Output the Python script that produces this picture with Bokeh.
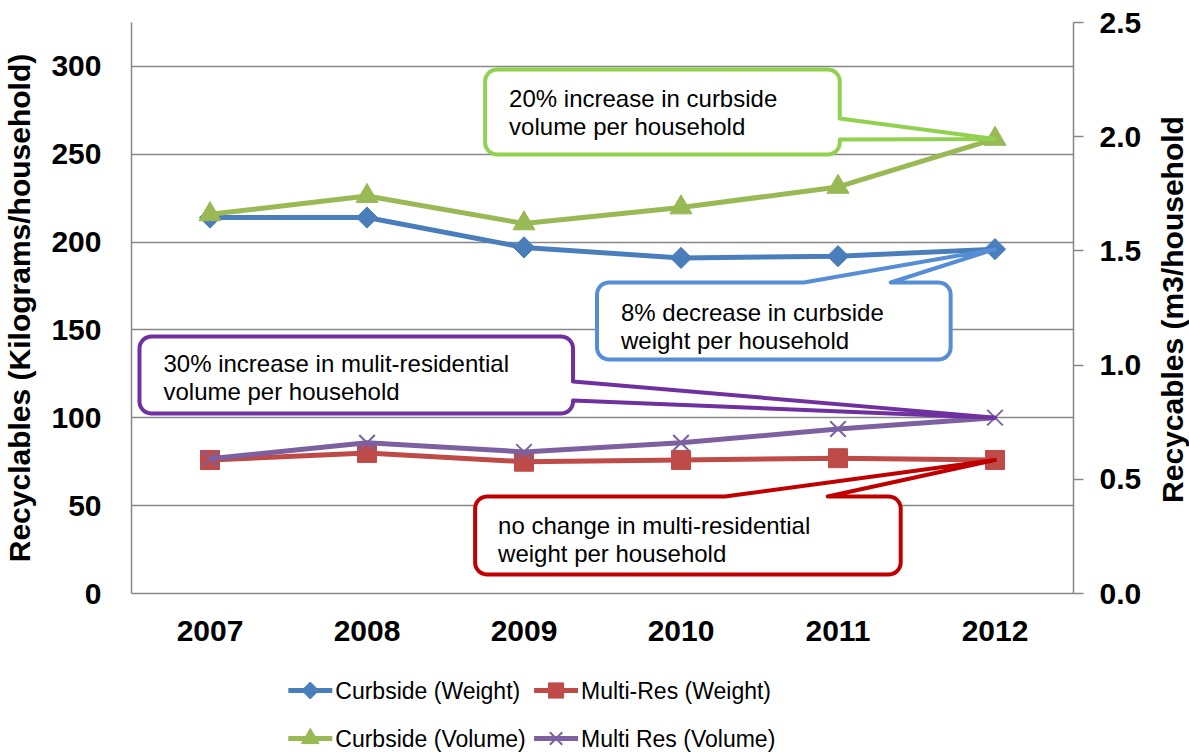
import math

from bokeh.core.properties import value
from bokeh.embed import file_html
from bokeh.layouts import column, row
from bokeh.models import FixedTicker, LinearAxis, PrintfTickFormatter, Range1d
from bokeh.plotting import figure
from bokeh.resources import INLINE

# ---- data -------------------------------------------------------------
years = ["2007", "2008", "2009", "2010", "2011", "2012"]
curbside_weight = [214, 214, 197, 191, 192, 196]      # kg / household
multires_weight = [76, 80, 75, 76, 77, 76]            # kg / household
curbside_volume = [1.66, 1.74, 1.62, 1.69, 1.78, 1.99]  # m3 / household
multires_volume = [0.59, 0.66, 0.62, 0.66, 0.72, 0.77]  # m3 / household

left_ticks = [0, 50, 100, 150, 200, 250, 300]
right_ticks = [0.0, 0.5, 1.0, 1.5, 2.0, 2.5]

xs = list(range(len(years)))

# ---- layout constants (pixels) -----------------------------------------
W, H = 1189, 755
TITLE_W = 39                 # strip on the right holding the right-hand title
MAIN_W = W - TITLE_W
MAIN_H = 662
FRAME_L, FRAME_T, FRAME_W, FRAME_H = 130, 22, 943, 571
FRAME_R_BORDER = MAIN_W - FRAME_L - FRAME_W
X_LO, X_HI = -0.5, len(years) - 0.5
KG_LO, KG_HI = 0, 325
VOL_LO, VOL_HI = 0, 2.5

FONT = "Liberation Sans"
GRID = "#878787"

p = figure(width=MAIN_W, height=MAIN_H, output_backend="svg",
           toolbar_location=None,
           x_range=Range1d(X_LO, X_HI), y_range=Range1d(KG_LO, KG_HI),
           min_border_left=FRAME_L, min_border_top=FRAME_T,
           min_border_right=FRAME_R_BORDER,
           min_border_bottom=MAIN_H - FRAME_T - FRAME_H)
p.extra_y_ranges = {"vol": Range1d(VOL_LO, VOL_HI)}
p.outline_line_color = None
p.background_fill_color = "white"
p.border_fill_color = "white"

# ---- axes ------------------------------------------------------------
def style_axis(ax):
    ax.axis_line_color = GRID
    ax.axis_line_width = 1.5
    ax.major_tick_line_color = GRID
    ax.major_tick_line_width = 1.5
    ax.minor_tick_out = 0
    ax.minor_tick_in = 0
    ax.major_tick_in = 0
    ax.major_label_text_font = FONT
    ax.major_label_text_font_size = "30px"
    ax.major_label_text_font_style = "bold"
    ax.major_label_text_color = "black"
    ax.axis_label_text_font = FONT
    ax.axis_label_text_font_size = "30px"
    ax.axis_label_text_font_style = "bold"
    ax.axis_label_text_color = "black"

xax = p.xaxis[0]
style_axis(xax)
xax.ticker = FixedTicker(ticks=xs)
xax.major_label_overrides = {i: y for i, y in zip(xs, years)}
xax.major_tick_out = 0
xax.major_label_standoff = 27

yax = p.yaxis[0]
style_axis(yax)
yax.ticker = FixedTicker(ticks=left_ticks)
yax.major_tick_out = 0
yax.major_label_standoff = 30
yax.axis_label = "Recyclables (Kilograms/household)"
yax.axis_label_standoff = 12

rax = LinearAxis(y_range_name="vol", ticker=FixedTicker(ticks=right_ticks),
                 formatter=PrintfTickFormatter(format="%.1f"))
style_axis(rax)
rax.major_tick_out = 10
rax.major_label_standoff = 16
p.add_layout(rax, "right")

p.xgrid.visible = False
p.ygrid.ticker = FixedTicker(ticks=left_ticks)
p.ygrid.grid_line_color = GRID
p.ygrid.grid_line_width = 1.5

# ---- series ----------------------------------------------------------
series = [
    dict(name="Curbside (Weight)", vals=curbside_weight, rng="default",
         color="#4A7EBB", marker="square", size=15, angle=math.pi / 4),
    dict(name="Multi-Res (Weight)", vals=multires_weight, rng="default",
         color="#BE4B48", marker="square", size=19, angle=0),
    dict(name="Curbside (Volume)", vals=curbside_volume, rng="vol",
         color="#98B954", marker="triangle", size=22, angle=0),
    dict(name="Multi Res (Volume)", vals=multires_volume, rng="vol",
         color="#7D60A0", marker="x", size=22, angle=0),
]

def marker_style(s):
    if s["marker"] == "x":
        return dict(line_color=s["color"], line_width=2)
    return dict(fill_color=s["color"], line_color=s["color"])

for s in series:
    p.line(xs, s["vals"], y_range_name=s["rng"], line_color=s["color"],
           line_width=5, line_join="round")
    p.scatter(xs, s["vals"], y_range_name=s["rng"], marker=s["marker"],
              size=s["size"], angle=s["angle"], **marker_style(s))

# ---- callouts --------------------------------------------------------
def to_x(px):
    return X_LO + (px - FRAME_L) / FRAME_W * (X_HI - X_LO)

def to_y(py, lo=KG_LO, hi=KG_HI):
    return lo + (FRAME_T + FRAME_H - py) / FRAME_H * (hi - lo)

def from_x(x):
    return FRAME_L + (x - X_LO) / (X_HI - X_LO) * FRAME_W

def from_y(y, lo, hi):
    return FRAME_T + FRAME_H - (y - lo) / (hi - lo) * FRAME_H

def arc(cx, cy, r, a0, a1, n=10):
    pts = []
    for k in range(n + 1):
        a = math.radians(a0 + (a1 - a0) * k / n)
        pts.append((cx + r * math.cos(a), cy + r * math.sin(a)))
    return pts

def callout_path(box, side, base, tip, r=12):
    L, T, R, B = box
    pts = [(L + r, T)]
    if side == "top":
        pts += [(base[0], T), tip, (base[1], T)]
    pts += [(R - r, T)]
    pts += arc(R - r, T + r, r, -90, 0)
    if side == "right":
        pts += [(R, base[0]), tip, (R, base[1])]
    pts += arc(R - r, B - r, r, 0, 90)
    pts += arc(L + r, B - r, r, 90, 180)
    pts += arc(L + r, T + r, r, 180, 270)
    return pts

callouts = [
    dict(lines=["20% increase in curbside", "volume per household"],
         color="#92D050", box=(484, 69, 839, 154), side="right", base=(118, 139),
         vals=curbside_volume, lo=VOL_LO, hi=VOL_HI, text_at=(508, 98)),
    dict(lines=["8% decrease in curbside", "weight per household"],
         color="#558ED5", box=(596, 282, 950, 359), side="top", base=(803, 890),
         vals=curbside_weight, lo=KG_LO, hi=KG_HI, text_at=(620, 312)),
    dict(lines=["30% increase in mulit-residential", "volume per household"],
         color="#7030A0", box=(138, 336, 572, 413), side="right", base=(381, 400),
         vals=multires_volume, lo=VOL_LO, hi=VOL_HI, text_at=(162, 363)),
    dict(lines=["no change in multi-residential", "weight per household"],
         color="#C00000", box=(474, 496, 900, 574), side="top", base=(724, 827),
         vals=multires_weight, lo=KG_LO, hi=KG_HI, text_at=(497, 525)),
]

for c in callouts:
    last = len(c["vals"]) - 1
    tip = (from_x(xs[last]), from_y(c["vals"][last], c["lo"], c["hi"]))
    pts = callout_path(c["box"], c["side"], c["base"], tip)
    p.patch([to_x(a) for a, _ in pts], [to_y(b) for _, b in pts],
            fill_color="white", line_color=c["color"], line_width=4,
            line_join="round")
    tx, ty = c["text_at"]
    p.text([to_x(tx)] * len(c["lines"]),
           [to_y(ty + 27.5 * i) for i in range(len(c["lines"]))],
           text=c["lines"], text_font=value(FONT), text_font_size="24px",
           text_color="black", text_align="left", text_baseline="middle")

# ---- legend strip (two columns of line + marker keys) -------------------
# Its frame lines up with the chart frame, so x is measured in page pixels.
LEG_H = H - MAIN_H
leg = figure(width=MAIN_W, height=LEG_H, output_backend="svg",
             toolbar_location=None,
             x_range=Range1d(FRAME_L, FRAME_L + FRAME_W),
             y_range=Range1d(LEG_H, 0),
             x_axis_location=None, y_axis_location=None,
             min_border_left=FRAME_L, min_border_right=FRAME_R_BORDER,
             min_border_top=0, min_border_bottom=0, outline_line_color=None)
leg.grid.visible = False

key_cols = [287, 533]       # left edge of each key column
key_rows = [28, 76]         # centre of each key row
KEY_W = 44
for i, s in enumerate(series):
    kx = key_cols[i % 2]
    ky = key_rows[i // 2]
    leg.line([kx, kx + KEY_W], [ky, ky], line_color=s["color"], line_width=5)
    leg.scatter([kx + KEY_W / 2], [ky], marker=s["marker"],
                size=s["size"] * 0.8, angle=s["angle"], **marker_style(s))
    leg.text([kx + KEY_W + 3], [ky], text=[s["name"]], text_font=value(FONT),
             text_font_size="23px", text_color="black", text_align="left",
             text_baseline="middle")

# ---- right-hand title strip (text reads upwards) -------------------------
# Frame spans the same rows as the chart frame; y is measured in page pixels.
tfig = figure(width=TITLE_W, height=H, output_backend="svg",
              toolbar_location=None,
              x_range=Range1d(0, TITLE_W),
              y_range=Range1d(FRAME_T + FRAME_H, FRAME_T),
              x_axis_location=None, y_axis_location=None,
              min_border_left=0, min_border_right=0,
              min_border_top=FRAME_T, min_border_bottom=H - FRAME_T - FRAME_H,
              outline_line_color=None)
tfig.grid.visible = False
tfig.text([22], [309], text=["Recycables (m3/household"], angle=math.pi / 2,
          text_font=value(FONT), text_font_size="30px",
          text_font_style="bold", text_color="black",
          text_align="center", text_baseline="middle")

layout = row(column(p, leg, spacing=0), tfig, spacing=0)
open("out.html", "w").write(file_html(layout, INLINE))
